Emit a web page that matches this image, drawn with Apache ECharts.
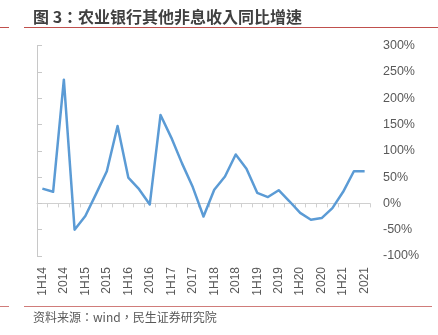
<!DOCTYPE html>
<html>
<head>
<meta charset="utf-8">
<script src="https://cdn.jsdelivr.net/npm/echarts@6/dist/echarts.min.js"></script>
<style>
  html, body { margin: 0; padding: 0; background: #fff; }
  #chart { width: 438px; height: 335px; }
</style>
</head>
<body>
<div id="chart"></div>
<script>
// Quarterly periods (only every other one is labelled on the axis)
const periods = [
  '1H14', '3Q14', '2014',
  '1Q15', '1H15', '3Q15', '2015',
  '1Q16', '1H16', '3Q16', '2016',
  '1Q17', '1H17', '3Q17', '2017',
  '1Q18', '1H18', '3Q18', '2018',
  '1Q19', '1H19', '3Q19', '2019',
  '1Q20', '1H20', '3Q20', '2020',
  '1Q21', '1H21', '3Q21', '2021'
];

// Other non-interest income, YoY growth (%)
const yoyGrowth = [
  28, 22, 235,
  -50, -24, 18, 61,
  147, 49, 27, -2,
  168, 125, 76, 31,
  -25, 26, 51, 93,
  66, 20, 12, 25,
  4, -18, -31, -28,
  -9, 22, 61, 61
];

// Value axis ticks (%)
const yMin = -100;
const yMax = 300;
const yStep = 50;

const titleText = '图 3：农业银行其他非息收入同比增速';
const sourceText = '资料来源：wind，民生证券研究院';

const chart = echarts.init(document.getElementById('chart'));

const numFont = 'Liberation Sans';
// centred full-width punctuation (：，) as in the printed report
const cjkFont = '"Noto Sans CJK TC", "Noto Sans CJK SC", "Liberation Sans", sans-serif';
const labelGrey = '#595959';
const ruleRed = '#c0504d';

chart.setOption({
  animation: false,
  backgroundColor: '#ffffff',
  grid: { left: 37, right: 68, top: 45.5, bottom: 79, containLabel: false },
  graphic: [
    { type: 'text', left: 33, top: 9,
      style: { text: titleText, fill: '#404040', font: 'bold 16px ' + cjkFont } },
    { type: 'line', shape: { x1: 24, y1: 27.5, x2: 438, y2: 27.5 },
      style: { stroke: ruleRed, lineWidth: 1 } },
    { type: 'line', shape: { x1: 0, y1: 27.5, x2: 9, y2: 27.5 },
      style: { stroke: ruleRed, lineWidth: 1 } },
    { type: 'line', shape: { x1: 24, y1: 306.5, x2: 432, y2: 306.5 },
      style: { stroke: ruleRed, lineWidth: 1, opacity: 0.75 } },
    { type: 'line', shape: { x1: 0, y1: 306.5, x2: 9, y2: 306.5 },
      style: { stroke: ruleRed, lineWidth: 1, opacity: 0.75 } },
    { type: 'text', left: 33, top: 311,
      style: { text: sourceText, fill: labelGrey, font: '12px ' + cjkFont } }
  ],
  xAxis: [
    {
      // axis line through 0% with boundary ticks
      type: 'category',
      data: periods,
      boundaryGap: true,
      axisLine: { onZero: true, onZeroAxisIndex: 0, lineStyle: { color: '#d0d0d0', width: 1 } },
      axisTick: { show: true, interval: 0, length: 4, lineStyle: { color: '#d0d0d0' } },
      axisLabel: { show: false },
      splitLine: { show: false }
    },
    {
      // period labels along the bottom of the plot
      type: 'category',
      data: periods,
      position: 'bottom',
      boundaryGap: true,
      axisLine: { show: false, onZero: false },
      axisTick: { show: false },
      axisLabel: {
        show: true,
        rotate: 90,
        interval: 1,
        margin: 11,
        color: labelGrey,
        fontSize: 12,
        fontFamily: numFont
      },
      splitLine: { show: false }
    }
  ],
  yAxis: [
    {
      type: 'value',
      position: 'left',
      min: yMin, max: yMax, interval: yStep,
      axisLine: { show: true, lineStyle: { color: '#c8c8c8', width: 1 } },
      axisTick: { show: true, inside: true, length: 5, lineStyle: { color: '#c8c8c8' } },
      axisLabel: { show: false },
      splitLine: { show: false }
    },
    {
      type: 'value',
      position: 'right',
      min: yMin, max: yMax, interval: yStep,
      axisLine: { show: false },
      axisTick: { show: false },
      axisLabel: {
        show: true,
        margin: 13,
        align: 'left',
        color: labelGrey,
        fontSize: 12.5,
        fontFamily: numFont,
        formatter: v => v + '%'
      },
      splitLine: { show: false }
    }
  ],
  series: [
    {
      type: 'line',
      xAxisIndex: 0,
      yAxisIndex: 0,
      data: yoyGrowth,
      symbol: 'none',
      smooth: false,
      lineStyle: { color: '#5b9bd5', width: 2.5, join: 'round' }
    }
  ]
});
</script>
</body>
</html>
